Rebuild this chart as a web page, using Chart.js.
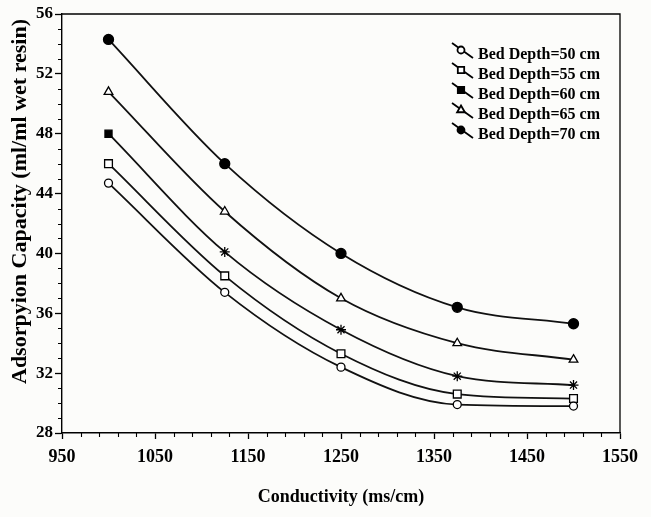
<!DOCTYPE html>
<html>
<head>
<meta charset="utf-8">
<script src="https://cdn.jsdelivr.net/npm/chart.js@4/dist/chart.umd.min.js"></script>
<style>
  html, body { margin: 0; padding: 0; background: #fcfcfa; }
  #wrap { width: 651px; height: 517px; position: relative; }
</style>
</head>
<body>
<div id="wrap"><canvas id="c" width="651" height="517"></canvas></div>
<script>
// ---- data ----
const conductivity = [1000, 1125, 1250, 1375, 1500];
const bed50 = [44.7, 37.4, 32.4, 29.9, 29.8];
const bed55 = [46.0, 38.5, 33.3, 30.6, 30.3];
const bed60 = [48.0, 40.1, 34.9, 31.8, 31.2];
const bed65 = [50.8, 42.8, 37.0, 34.0, 32.9];
const bed70 = [54.3, 46.0, 40.0, 36.4, 35.3];
const seriesLabels = ['Bed Depth=50 cm', 'Bed Depth=55 cm', 'Bed Depth=60 cm', 'Bed Depth=65 cm', 'Bed Depth=70 cm'];
const xTickValues = [950, 1050, 1150, 1250, 1350, 1450, 1550];
const yTickValues = [28, 32, 36, 40, 44, 48, 52, 56];

const FONT = "'Liberation Serif', 'Times New Roman', serif";
const toPts = arr => arr.map((v, i) => ({ x: conductivity[i], y: v }));

const styles = [
  { pointStyle: 'circle', bg: '#ffffff', r: 4 },
  { pointStyle: 'rect', bg: '#ffffff', r: 5.5 },
  { pointStyle: ['rect', 'star', 'star', 'star', 'star'], bg: '#000000', r: 5 },
  { pointStyle: 'triangle', bg: '#ffffff', r: 5 },
  { pointStyle: 'circle', bg: '#000000', r: 5 }
];
const seriesData = [bed50, bed55, bed60, bed65, bed70];

const datasets = seriesData.map((d, i) => ({
  label: seriesLabels[i],
  data: toPts(d),
  borderColor: '#111',
  borderWidth: 1.8,
  pointStyle: styles[i].pointStyle,
  pointBackgroundColor: styles[i].bg,
  pointBorderColor: '#000',
  pointBorderWidth: 1.3,
  pointRadius: styles[i].r,
  cubicInterpolationMode: 'monotone',
  fill: false
}));

// minor ticks, frame and legend
const extras = {
  id: 'extras',
  afterDraw(chart) {
    const ctx = chart.ctx;
    const a = chart.chartArea;
    const xs = chart.scales.x, ys = chart.scales.y;
    ctx.save();
    ctx.strokeStyle = '#000';
    ctx.lineWidth = 1.3;
    ctx.beginPath();
    ctx.moveTo(a.left, a.top); ctx.lineTo(a.right, a.top); ctx.lineTo(a.right, a.bottom);
    ctx.stroke();
    ctx.lineWidth = 1.1;
    ctx.beginPath();
    for (let v = 950; v <= 1550; v += 20) {
      if ((v - 950) % 100 === 0) continue;
      const px = Math.round(xs.getPixelForValue(v)) + 0.5;
      ctx.moveTo(px, a.bottom); ctx.lineTo(px, a.bottom + 4);
    }
    for (let v = 28; v <= 56; v += 1) {
      if (v % 4 === 0) continue;
      const py = Math.round(ys.getPixelForValue(v)) + 0.5;
      ctx.moveTo(a.left, py); ctx.lineTo(a.left - 4, py);
    }
    ctx.stroke();
    // legend
    const lx = 478, ly0 = 55, dy = 20;
    ctx.font = "bold 16px " + FONT;
    ctx.textBaseline = 'middle';
    ctx.textAlign = 'left';
    chart.data.datasets.forEach((ds, i) => {
      const yc = ly0 + i * dy;
      ctx.lineWidth = 1.8;
      ctx.strokeStyle = '#000';
      ctx.beginPath();
      ctx.moveTo(lx - 26, yc - 12); ctx.lineTo(lx - 5, yc + 3);
      ctx.stroke();
      const ps = Array.isArray(ds.pointStyle) ? ds.pointStyle[0] : ds.pointStyle;
      const opts = { pointStyle: ps, radius: (ps === 'circle' ? 3.5 : 4.5), rotation: 0, borderWidth: 1.3 };
      ctx.fillStyle = ds.pointBackgroundColor;
      ctx.strokeStyle = '#000';
      if (Chart.helpers && Chart.helpers.drawPoint) {
        Chart.helpers.drawPoint(ctx, opts, lx - 17, yc - 5);
      }
      ctx.fillStyle = '#000';
      ctx.fillText(ds.label, lx, yc);
    });
    ctx.restore();
  }
};

new Chart(document.getElementById('c'), {
  type: 'line',
  data: { datasets },
  options: {
    responsive: false,
    animation: false,
    events: [],
    layout: { padding: { top: 14, right: 31, left: 0, bottom: 0 } },
    plugins: { legend: { display: false }, tooltip: { enabled: false } },
    scales: {
      x: {
        type: 'linear',
        min: 950, max: 1550,
        afterBuildTicks: s => { s.ticks = xTickValues.map(v => ({ value: v })); },
        afterFit: s => { s.height = 84; },
        ticks: { color: '#000', font: { family: FONT, size: 18, weight: 'bold' }, padding: 8, maxRotation: 0, autoSkip: false, callback: v => String(v) },
        grid: { drawOnChartArea: false, drawTicks: true, tickLength: 6, color: '#000', tickWidth: 1.3 },
        border: { display: true, color: '#000', width: 1.4 },
        title: { display: true, text: 'Conductivity (ms/cm)', color: '#000', font: { family: FONT, size: 18, weight: 'bold' }, padding: { top: 0, bottom: 9 } }
      },
      y: {
        type: 'linear',
        min: 28, max: 56,
        afterBuildTicks: s => { s.ticks = yTickValues.map(v => ({ value: v })); },
        afterFit: s => { s.width = 62; },
        ticks: { color: '#000', font: { family: FONT, size: 17, weight: 'bold' }, padding: 2, callback: v => String(v) },
        grid: { drawOnChartArea: false, drawTicks: true, tickLength: 7, color: '#000', tickWidth: 1.3 },
        border: { display: true, color: '#000', width: 1.4 },
        title: { display: true, text: '        Adsorpyion Capacity (ml/ml wet resin)', color: '#000', font: { family: FONT, size: 22, weight: 'bold' }, padding: { top: 7, bottom: 0 } }
      }
    }
  },
  plugins: [extras]
});
</script>
</body>
</html>
